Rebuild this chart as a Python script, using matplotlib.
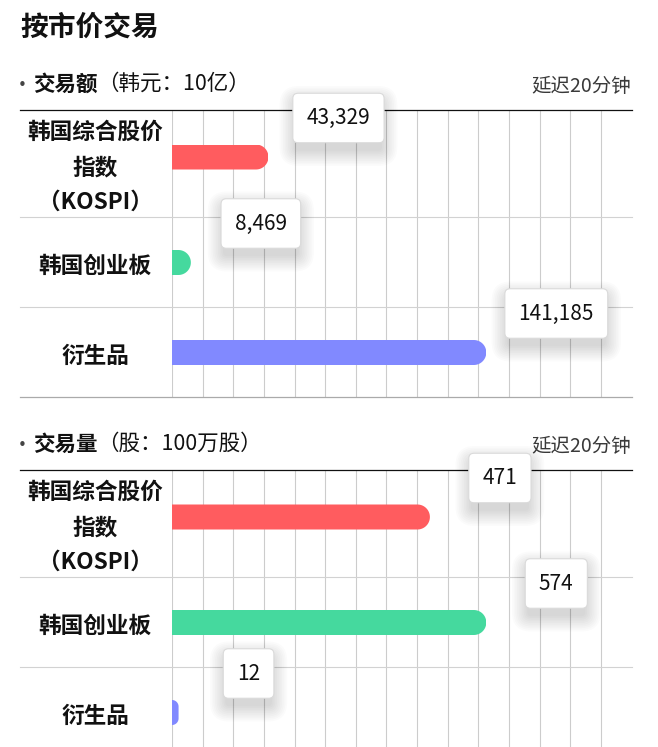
import numpy as np
import matplotlib
matplotlib.use('Agg')
import matplotlib.pyplot as plt
from matplotlib.path import Path
from matplotlib.patches import FancyBboxPatch
from matplotlib.transforms import IdentityTransform

plt.rcParams['font.family'] = ['Noto Sans CJK SC', 'DejaVu Sans']

# ---------------- data ----------------
title = "按市价交易"
categories = ["韩国综合股价\n指数\n（KOSPI）", "韩国创业板", "衍生品"]
amount_title = "交易额"
amount_unit = "（韩元：10亿）"
amount_values = [43329, 8469, 141185]
volume_title = "交易量"
volume_unit = "（股：100万股）"
volume_values = [471, 574, 12]
delay_note = "延迟20分钟"
bar_colors = ["#FF5C5F", "#45D99E", "#8189FF"]

# ---------------- layout ----------------
W, H = 658, 747
fig = plt.figure(figsize=(W / 100, H / 100), dpi=100)
fig.patch.set_facecolor('white')


def fx(x):
    return x / W


def fy(y):
    return 1 - y / H


PL, PR = 172, 631.5          # plot area (px)
LEFT_EDGE = 19.5
PLOT_H = 287
ROW_EDGES = [0, 107, 197, 287]
BAR_CENTERS = [47, 152.5, 242.5]
BAR_H = 25
HEADROOM = 1.462
NGRID = 15
LINE_PITCH = 35
TEXT_DY = 4

renderer = fig.canvas.get_renderer()

fig.text(fx(20), fy(28), title, fontsize=20, fontweight='bold', color='#111111',
         ha='left', va='center')

tooltips = []


def draw_section(top, head, unit, values):
    # header
    fig.text(fx(22), fy(top - 25), "•", fontsize=11, color='#444444', ha='center', va='center',
             family='DejaVu Sans')
    t = fig.text(fx(33), fy(top - 26), head, fontsize=15.5, fontweight='bold', color='#111111',
                 ha='left', va='center')
    bb = t.get_window_extent(renderer)
    fig.text(bb.x1 / W, fy(top - 26), unit, fontsize=15.5, color='#111111',
             ha='left', va='center')
    fig.text(fx(PR), fy(top - 24), delay_note, fontsize=14, color='#3a3a3a',
             ha='right', va='center')

    ax = fig.add_axes([fx(PL), fy(top + PLOT_H), (PR - PL) / W, PLOT_H / H])
    ax.set_facecolor('none')
    xmax = max(values) * HEADROOM
    ax.set_xlim(0, xmax)
    ax.set_ylim(PLOT_H, 0)
    for s in ax.spines.values():
        s.set_visible(False)
    ax.set_xticks(np.arange(NGRID) * xmax / NGRID)
    ax.set_yticks([])
    ax.tick_params(length=0, labelbottom=False, labelleft=False)
    ax.grid(axis='x', color='#cccccc', lw=0.8, zorder=0)
    ax.set_axisbelow(True)

    ppu = (PR - PL) / xmax   # pixels per data unit
    x_left = (LEFT_EDGE - PL) / ppu

    # row separators / frame lines
    ax.plot([x_left, xmax], [0, 0], color='#111111', lw=0.9, clip_on=False, zorder=2)
    for e in ROW_EDGES[1:-1]:
        ax.plot([x_left, xmax], [e, e], color='#d2d2d2', lw=0.8, clip_on=False, zorder=1)
    ax.plot([x_left, xmax], [ROW_EDGES[-1]] * 2, color='#aaaaaa', lw=0.9, clip_on=False, zorder=1)

    # category labels
    for i, cat in enumerate(categories):
        yc = top + (ROW_EDGES[i] + ROW_EDGES[i + 1]) / 2 + TEXT_DY
        lines = cat.split("\n")
        n = len(lines)
        for j, ln in enumerate(lines):
            yy = yc + (j - (n - 1) / 2) * LINE_PITCH
            fig.text(fx(95), fy(yy), ln, fontsize=16.3, fontweight='bold', color='#111111',
                     ha='center', va='center')

    # bars with rounded right end
    for i, v in enumerate(values):
        yc = BAR_CENTERS[i]
        bars = ax.barh(yc, v, height=BAR_H, color=bar_colors[i], zorder=3, lw=0)
        wpx = v * ppu
        r = min(BAR_H / 2, wpx)
        yt, yb = yc - BAR_H / 2, yc + BAR_H / 2
        cx = v - r / ppu
        pts = [(0, yt)]
        for th in np.linspace(np.pi / 2, 0, 20):
            pts.append((cx + r * np.cos(th) / ppu, yt + r - r * np.sin(th)))
        for th in np.linspace(0, -np.pi / 2, 20):
            pts.append((cx + r * np.cos(th) / ppu, yb - r - r * np.sin(th)))
        pts.append((0, yb))
        pts.append((0, yt))
        clip = Path(pts, closed=True)
        for b in bars:
            b.set_clip_path(clip, ax.transData)

        label = f"{v:,}"
        an = ax.annotate(label, xy=(v, yc), xytext=(70, 39), textcoords='offset pixels',
                         ha='center', va='center', fontsize=15, color='#111111',
                         annotation_clip=False, zorder=6,
                         bbox=dict(boxstyle='round,pad=0.66,rounding_size=0.25',
                                   fc='white', ec='#dadada', lw=0.8))
        tooltips.append((ax, an))
    return ax


draw_section(110, amount_title, amount_unit, amount_values)
draw_section(470, volume_title, volume_unit, volume_values)

# soft drop shadows under the tooltip boxes
fig.canvas.draw()
renderer = fig.canvas.get_renderer()
for ax, an in tooltips:
    ext = an.get_bbox_patch().get_window_extent(renderer)
    for k in range(10):
        g = 1.7 * k
        p = FancyBboxPatch((ext.x0 - g + 2, ext.y0 - g - 8), ext.width + 2 * g - 4, ext.height + 2 * g,
                           boxstyle=f'round,pad=0,rounding_size={4 + g}',
                           transform=IdentityTransform(), fc='black', ec='none',
                           alpha=0.014, zorder=5, clip_on=False)
        ax.add_artist(p)

fig.savefig('out.png', dpi=100, facecolor='white')
